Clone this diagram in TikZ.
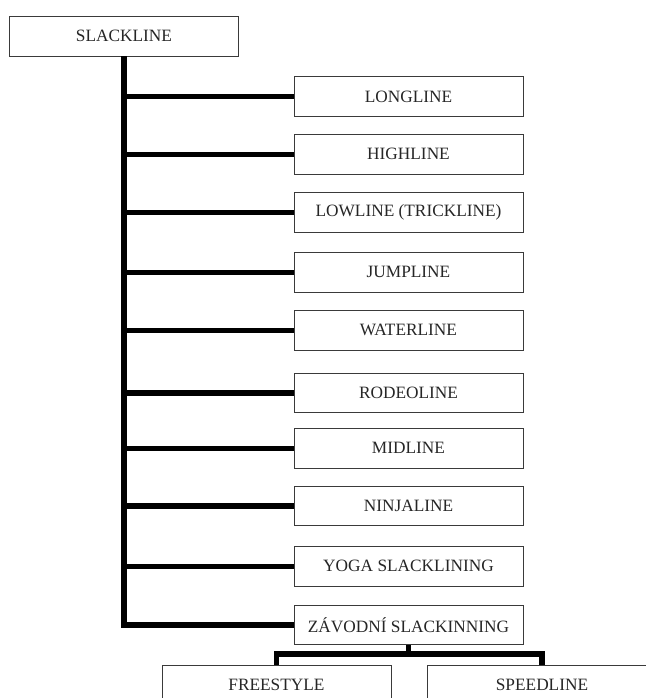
\documentclass[tikz,border=0pt]{standalone}
\usepackage{fontspec}
\setmainfont{Liberation Serif}
\usepackage{tikz}
\usetikzlibrary{positioning, calc}
\definecolor{boxLine}{HTML}{3A3A3A}
\definecolor{boxText}{HTML}{262626}

\begin{document}
\begin{tikzpicture}[x=1pt, y=-1pt,
      box/.style={draw=boxLine, line width=0.9pt, minimum width=229pt, minimum height=39.5pt,
                  inner sep=0pt, text=boxText, font=\fontsize{17.3}{20}\selectfont},
      branch/.style={line width=5.6pt, black}]
    \useasboundingbox (0,0) rectangle (645,698);
    \node[box] (root)  at (124,36.3)    {SLACKLINE};
    \node[box] (long)  at (408.5,96.5)  {LONGLINE};
    \node[box] (high)  at (408.5,154.3) {HIGHLINE};
    \node[box] (low)   at (408.5,212.3) {LOWLINE (TRICKLINE)};
    \node[box] (jump)  at (408.5,272.3) {JUMPLINE};
    \node[box] (water) at (408.5,330.3) {WATERLINE};
    \node[box] (rodeo) at (408.5,393)   {RODEOLINE};
    \node[box] (mid)   at (408.5,448.3) {MIDLINE};
    \node[box] (ninja) at (408.5,506)   {NINJALINE};
    \node[box] (yoga)  at (408.5,566.3) {YOGA SLACKLINING};
    \node[box] (zav)   at (408.5,624.7) {ZÁVODNÍ SLACKINNING};
    \node[box] (free)  at (276.5,685)   {FREESTYLE};
    \node[box] (speed) at (542,685)     {SPEEDLINE};
    \coordinate (split) at (408.5,654);
    % main trunk
    \draw[branch] (root.south) |- (zav.west);
    \draw[branch] (root.south |- long.west)  -- (long.west);
    \draw[branch] (root.south |- high.west)  -- (high.west);
    \draw[branch] (root.south |- low.west)   -- (low.west);
    \draw[branch] (root.south |- jump.west)  -- (jump.west);
    \draw[branch] (root.south |- water.west) -- (water.west);
    \draw[branch] (root.south |- rodeo.west) -- (rodeo.west);
    \draw[branch] (root.south |- mid.west)   -- (mid.west);
    \draw[branch] (root.south |- ninja.west) -- (ninja.west);
    \draw[branch] (root.south |- yoga.west)  -- (yoga.west);
    % competition split
    \draw[branch] (zav.south) -- (split);
    \draw[branch] (split) -| (free.north);
    \draw[branch] (split) -| (speed.north);
  \end{tikzpicture}
\end{document}
